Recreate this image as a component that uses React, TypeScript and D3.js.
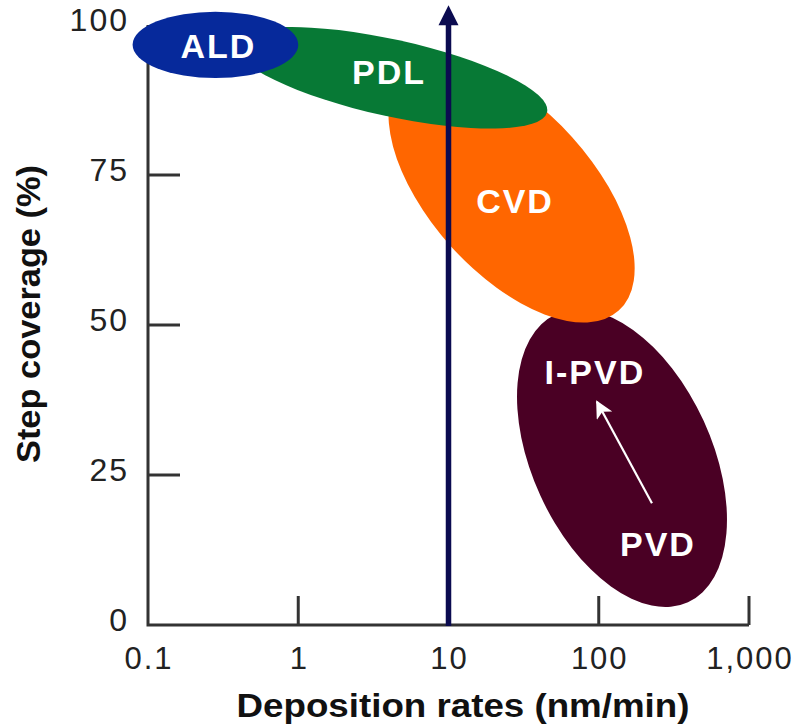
import React, { useEffect, useRef } from 'react';
import * as d3 from 'd3';

// regions, drawn back to front (each ellipse: centre + end of long axis in data units, width ratio)
const regionNames = ['PVD', 'CVD', 'PDL', 'ALD'];
const centerRate = [142.8, 26.3, 4.14, 0.281];
const centerCoverage = [27.8, 72.2, 91.2, 96.7];
const tipRate = [392.6, 135.8, 45.3, 1.0];
const tipCoverage = [3.8, 52.4, 85.5, 96.7];
const widthRatio = [0.567, 0.51, 0.24, 0.4];

const labelText = ['ALD', 'PDL', 'CVD', 'I-PVD', 'PVD'];
const labelRate = [0.29, 3.96, 27.3, 92.9, 244];
const labelCoverage = [96.5, 92.2, 70.7, 42.2, 13.5];

// PVD -> I-PVD arrow
const shiftFrom = [226, 20.3];
const shiftTo = [97.3, 37.2];

// the vertical marker at 10 nm/min
const markerRate = 10;
const markerTop = 103.3;

const xTicks = [0.1, 1, 10, 100, 1000];
const xTickLabels = ['0.1', '1', '10', '100', '1,000'];
const yTicks = [0, 25, 50, 75, 100];

const colors: Record<string, string> = {
  ALD: '#06299b',
  PDL: '#077935',
  CVD: '#ff6600',
  PVD: '#4a0024',
};

const FONT = '"Liberation Sans", Arial, Helvetica, sans-serif';

export default function App() {
  const ref = useRef<SVGSVGElement>(null);

  useEffect(() => {
    const w = 799, h = 727;
    const svg = d3.select(ref.current).attr('width', w).attr('height', h);
    svg.selectAll('*').remove();

    const x = d3.scaleLog().domain([0.1, 1000]).range([148, 749]);
    const y = d3.scaleLinear().domain([0, 100]).range([625, 25]);
    const axisColor = '#333';

    // axes
    const ax = svg.append('g');
    ax.append('path')
      .attr('d', `M${x(0.1)},${y(100)}V${y(0)}H${x(1000)}`)
      .attr('fill', 'none').attr('stroke', axisColor).attr('stroke-width', 3);
    ax.selectAll('.yt').data(yTicks.slice(1, 4)).join('line')
      .attr('x1', x(0.1)).attr('x2', x(0.1) + 32)
      .attr('y1', d => y(d)).attr('y2', d => y(d))
      .attr('stroke', axisColor).attr('stroke-width', 3);
    ax.selectAll('.xt').data(xTicks.slice(1)).join('line')
      .attr('x1', d => x(d)).attr('x2', d => x(d))
      .attr('y1', y(0)).attr('y2', y(0) - 29)
      .attr('stroke', axisColor).attr('stroke-width', 3);

    ax.selectAll('.yl').data(yTicks).join('text')
      .attr('x', 129).attr('y', d => y(d) - 6)
      .attr('dy', '0.36em')
      .attr('text-anchor', 'end')
      .attr('font-family', FONT).attr('font-size', 32)
      .attr('letter-spacing', 2)
      .attr('fill', '#222')
      .text(d => String(d));

    ax.selectAll('.xl').data(xTicks).join('text')
      .attr('x', d => x(d) + 1).attr('y', 669)
      .attr('text-anchor', 'middle')
      .attr('font-family', FONT).attr('font-size', 31)
      .attr('letter-spacing', 2)
      .attr('fill', '#222')
      .text((d, i) => xTickLabels[i]);

    svg.append('text')
      .attr('x', 463).attr('y', 717)
      .attr('text-anchor', 'middle')
      .attr('font-family', FONT).attr('font-size', 33).attr('font-weight', 'bold')
      .attr('textLength', 453).attr('lengthAdjust', 'spacingAndGlyphs')
      .attr('fill', '#111')
      .text('Deposition rates (nm/min)');

    svg.append('text')
      .attr('transform', 'translate(40,314) rotate(-90)')
      .attr('text-anchor', 'middle')
      .attr('font-family', FONT).attr('font-size', 33).attr('font-weight', 'bold')
      .attr('textLength', 298).attr('lengthAdjust', 'spacingAndGlyphs')
      .attr('fill', '#111')
      .text('Step coverage (%)');

    // regions
    svg.append('g').selectAll('ellipse').data(regionNames).join('ellipse')
      .each(function (name, i) {
        const cx = x(centerRate[i]), cy = y(centerCoverage[i]);
        const tx = x(tipRate[i]), ty = y(tipCoverage[i]);
        const a = Math.hypot(tx - cx, ty - cy);
        const ang = Math.atan2(ty - cy, tx - cx) * 180 / Math.PI;
        d3.select(this)
          .attr('cx', cx).attr('cy', cy)
          .attr('rx', a).attr('ry', a * widthRatio[i])
          .attr('transform', `rotate(${ang},${cx},${cy})`)
          .attr('fill', colors[name]);
      });

    svg.append('g').selectAll('text').data(labelText).join('text')
      .attr('x', (d, i) => x(labelRate[i]) + 1)
      .attr('y', (d, i) => y(labelCoverage[i]))
      .attr('dy', '0.36em')
      .attr('text-anchor', 'middle')
      .attr('font-family', FONT).attr('font-size', 34).attr('font-weight', 'bold')
      .attr('letter-spacing', 2)
      .attr('fill', '#fff')
      .text(d => d);

    // PVD -> I-PVD arrow
    const defs = svg.append('defs');
    defs.append('marker')
      .attr('id', 'whiteHead').attr('viewBox', '0 0 10 10')
      .attr('refX', 9).attr('refY', 5)
      .attr('markerWidth', 9).attr('markerHeight', 8)
      .attr('markerUnits', 'strokeWidth')
      .attr('orient', 'auto')
      .append('path').attr('d', 'M0,0L10,5L0,10L2.5,5Z').attr('fill', '#fff');
    svg.append('line')
      .attr('x1', x(shiftFrom[0])).attr('y1', y(shiftFrom[1]))
      .attr('x2', x(shiftTo[0])).attr('y2', y(shiftTo[1]))
      .attr('stroke', '#fff').attr('stroke-width', 2.2)
      .attr('marker-end', 'url(#whiteHead)');

    // navy marker arrow
    const mx = x(markerRate);
    const tipY = y(markerTop);
    svg.append('line')
      .attr('x1', mx).attr('x2', mx)
      .attr('y1', y(0) + 1).attr('y2', tipY + 18)
      .attr('stroke', '#0b0b50').attr('stroke-width', 5.5);
    svg.append('path')
      .attr('d', `M${mx},${tipY}L${mx + 10},${tipY + 20}L${mx - 10},${tipY + 20}Z`)
      .attr('fill', '#0b0b50');
  }, []);

  return <svg ref={ref} style={{ position: 'absolute', left: 0, top: 0 }} />;
}
